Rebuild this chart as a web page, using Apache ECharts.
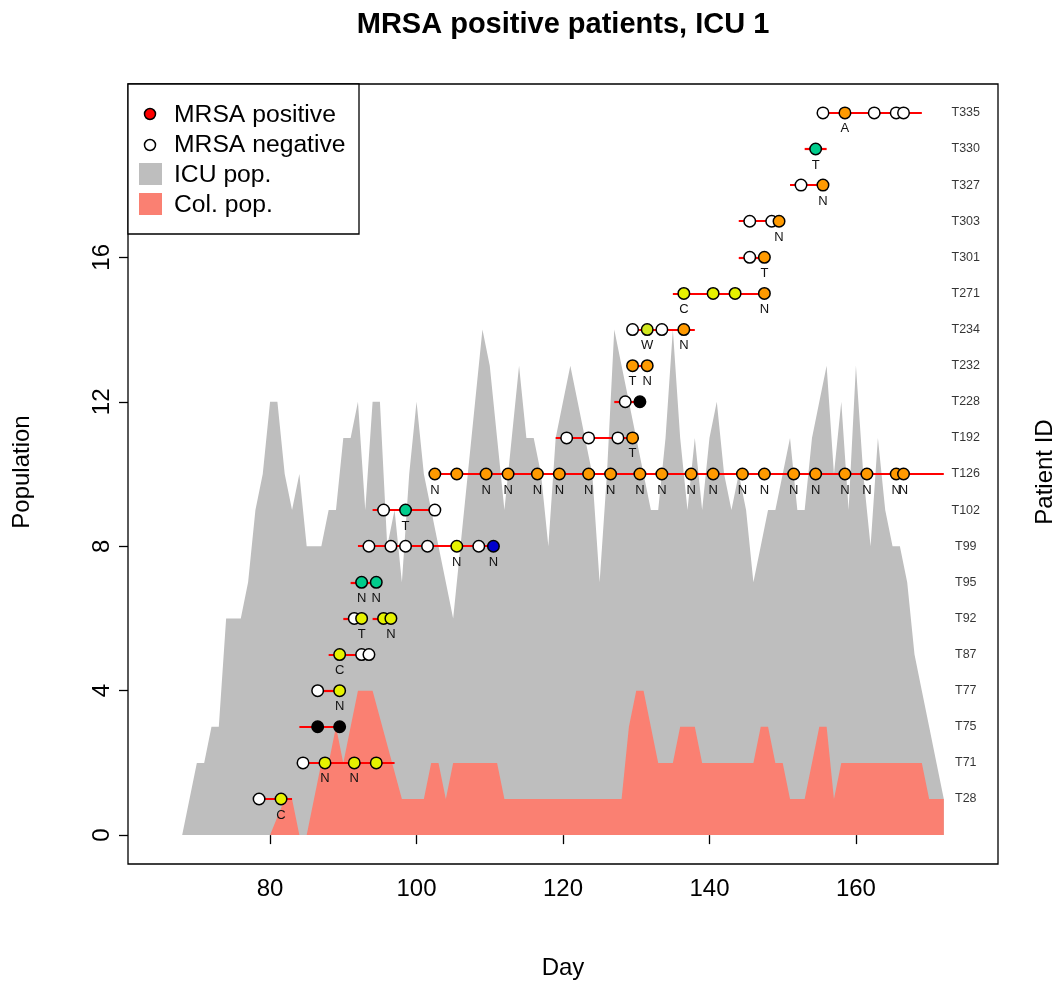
<!DOCTYPE html>
<html><head><meta charset="utf-8">
<script src="https://cdn.jsdelivr.net/npm/echarts@6/dist/echarts.min.js"></script>
<style>html,body{margin:0;padding:0;background:#fff}#c{width:1060px;height:985px}</style>
</head><body><div id="c"></div>
<script>
// ---------------- data ----------------
const patientIds = ['T28','T71','T75','T77','T87','T92','T95','T99','T102','T126',
  'T192','T228','T232','T234','T271','T301','T303','T327','T330','T335'];

const xTicks = [80, 100, 120, 140, 160];
const yTicks = [0, 4, 8, 12, 16];

// ICU population, one value per day starting at day 68
const icuFirstDay = 68;
const icuPop = [0,1,2,2,3,3,6,6,6,7,9,10,12,12,10,9,10,8,8,8,9,9,11,11,12,9,12,12,8,9,
  7,10,12,10,9,8,7,6,8,10,12,14,13,11,9,11,13,11,11,10,8,11,12,13,12,11,10,7,10,14,
  13,12,11,10,9,9,11,14,11,9,11,9,11,12,10,9,10,9,7,8,9,9,10,11,9,9,11,12,13,10,
  12,9,13,10,8,11,9,8,8,7,5,4,3,2,1];

// colonised population (polygon vertices: day, count)
const colDays = [80,82,83,84,85,86,87,88,89,90,91,92,94,98,101,102,103,104,105,111,112,
  128,129,130,131,133,135,136,138,139,146,147,148,149,150,151,153,155,156,157,158,169,170,172];
const colPop  = [0,1,1,0,0,1,2,2,3,2,3,4,4,1,1,2,2,1,2,2,1,
  1,3,4,4,2,2,3,3,2,2,3,3,2,2,1,1,3,3,1,2,2,1,1];

// stays (patient, start day, end day)
const stayId    = ['T28','T71','T75','T77','T87','T92','T92','T95','T99','T102','T126',
  'T192','T228','T232','T234','T271','T301','T303','T327','T330','T335'];
const stayStart = [78.5,84.5,84,86.5,88,90,94,91,92,94,102.5,119,127,129.5,129.5,135,144,144,151,153,155.5];
const stayEnd   = [83,97,89.5,89.5,93.5,92.5,96.5,94.5,110.5,102.5,172,129.5,130.5,131.5,138,147.5,147.5,149.5,155.5,156,169];

// samples (patient, day, result, site)
const sampleId = [
  'T28','T28',
  'T71','T71','T71','T71',
  'T75','T75',
  'T77','T77',
  'T87','T87','T87',
  'T92','T92','T92','T92',
  'T95','T95',
  'T99','T99','T99','T99','T99','T99','T99',
  'T102','T102','T102',
  'T126','T126','T126','T126','T126','T126','T126','T126','T126','T126',
  'T126','T126','T126','T126','T126','T126','T126','T126','T126','T126',
  'T192','T192','T192','T192',
  'T228','T228',
  'T232','T232',
  'T234','T234','T234','T234',
  'T271','T271','T271','T271',
  'T301','T301',
  'T303','T303','T303',
  'T327','T327',
  'T330',
  'T335','T335','T335','T335','T335'];
const sampleDay = [
  78.5,81.5,
  84.5,87.5,91.5,94.5,
  86.5,89.5,
  86.5,89.5,
  89.5,92.5,93.5,
  91.5,92.5,95.5,96.5,
  92.5,94.5,
  93.5,96.5,98.5,101.5,105.5,108.5,110.5,
  95.5,98.5,102.5,
  102.5,105.5,109.5,112.5,116.5,119.5,123.5,126.5,130.5,133.5,
  137.5,140.5,144.5,147.5,151.5,154.5,158.5,161.5,165.5,166.5,
  120.5,123.5,127.5,129.5,
  128.5,130.5,
  129.5,131.5,
  129.5,131.5,133.5,136.5,
  136.5,140.5,143.5,147.5,
  145.5,147.5,
  145.5,148.5,149.5,
  152.5,155.5,
  154.5,
  155.5,158.5,162.5,165.5,166.5];
// result: neg = MRSA negative; other codes = positive, by type
const sampleResult = [
  'neg','yel',
  'neg','yel','yel','yel',
  'blk','blk',
  'neg','yel',
  'yel','neg','neg',
  'neg','yel','yel','yel',
  'grn','grn',
  'neg','neg','neg','neg','yel','neg','blu',
  'neg','grn','neg',
  'org','org','org','org','org','org','org','org','org','org',
  'org','org','org','org','org','org','org','org','org','org',
  'neg','neg','neg','org',
  'neg','blk',
  'org','org',
  'neg','lim','neg','org',
  'yel','yel','yel','org',
  'neg','org',
  'neg','neg','org',
  'neg','org',
  'grn',
  'neg','org','neg','neg','neg'];
const sampleSite = [
  '','C',
  '','N','N','',
  '','',
  '','N',
  'C','','',
  '','T','','N',
  'N','N',
  '','','','','N','','N',
  '','T','',
  'N','','N','N','N','N','N','N','N','N',
  'N','N','N','N','N','N','N','N','N','N',
  '','','','T',
  '','',
  'T','N',
  '','W','','N',
  'C','','','N',
  '','T',
  '','','N',
  '','N',
  'T',
  '','A','','',''];

// ---------------- styling ----------------
const FONT = '"Liberation Sans", Arial, Helvetica, sans-serif';
const resultColor = {neg:'#FFFFFF', yel:'#E6F200', org:'#FF9A00', grn:'#00CC8C',
  blu:'#0000CC', blk:'#000000', lim:'#D2E81E'};
const labelDay = 175;
const rowOf = id => patientIds.indexOf(id) + 1;

const icuData = icuPop.map((v, i) => [icuFirstDay + i, v]);
const colData = colDays.map((d, i) => [d, colPop[i]]);
const stayData = stayId.map((id, i) => ({coords: [[stayStart[i], rowOf(id)], [stayEnd[i], rowOf(id)]]}));
const sampleData = sampleId.map((id, i) => ({
  value: [sampleDay[i], rowOf(id)],
  itemStyle: {color: resultColor[sampleResult[i]]},
  label: {show: sampleSite[i] !== '', formatter: sampleSite[i]}
}));
const idData = patientIds.map((id, i) => ({value: [labelDay, i + 1], label: {formatter: id}}));

const chart = echarts.init(document.getElementById('c'), null, {renderer: 'canvas'});
chart.setOption({
  animation: false,
  backgroundColor: '#fff',
  textStyle: {fontFamily: FONT},
  grid: {left: 128, top: 84, width: 870, height: 780, show: true, borderColor: '#000', borderWidth: 1.3, backgroundColor: 'transparent', z: 10},
  xAxis: {
    type: 'value', min: 60.6, max: 179.4,
    axisLine: {show: false}, splitLine: {show: false},
    axisTick: {show: true, customValues: xTicks, length: 9, lineStyle: {color: '#000', width: 1.3}},
    axisLabel: {customValues: xTicks, margin: 13, color: '#000', fontSize: 24, fontFamily: FONT}
  },
  yAxis: {
    type: 'value', min: -0.8, max: 20.8,
    axisLine: {show: false}, splitLine: {show: false},
    axisTick: {show: true, customValues: yTicks, length: 9, lineStyle: {color: '#000', width: 1.3}},
    axisLabel: {customValues: yTicks, rotate: 90, margin: 14, color: '#000', fontSize: 24, fontFamily: FONT}
  },
  series: [
    {type: 'line', name: 'ICU pop.', data: icuData, symbol: 'none', silent: true, z: 1,
      lineStyle: {width: 0}, areaStyle: {color: '#BEBEBE', opacity: 1}},
    {type: 'line', name: 'Col. pop.', data: colData, symbol: 'none', silent: true, z: 2,
      lineStyle: {width: 0}, areaStyle: {color: '#FA8072', opacity: 1}},
    {type: 'lines', coordinateSystem: 'cartesian2d', data: stayData, silent: true, z: 3,
      lineStyle: {color: '#FF0000', width: 2.2, opacity: 1, curveness: 0}},
    {type: 'scatter', data: sampleData, symbol: 'circle', symbolSize: 11.5, silent: true, z: 4,
      itemStyle: {borderColor: '#000', borderWidth: 1.5, opacity: 1},
      label: {position: 'bottom', distance: 3, fontSize: 13, color: '#111', fontFamily: FONT}},
    {type: 'scatter', data: idData, symbolSize: 0, silent: true, z: 4,
      label: {show: true, position: 'inside', fontSize: 12.5, color: '#000', fontFamily: FONT}}
  ],
  graphic: [
    {type: 'text', x: 563, y: 25, style: {text: 'MRSA positive patients, ICU 1', font: 'bold 29px ' + FONT, fill: '#000', textAlign: 'center', textVerticalAlign: 'middle'}},
    {type: 'text', x: 563, y: 968, style: {text: 'Day', font: '24px ' + FONT, fill: '#000', textAlign: 'center', textVerticalAlign: 'middle'}},
    {type: 'text', x: 22, y: 472, rotation: Math.PI / 2, style: {text: 'Population', font: '24px ' + FONT, fill: '#000', textAlign: 'center', textVerticalAlign: 'middle'}},
    {type: 'text', x: 1045, y: 472, rotation: Math.PI / 2, style: {text: 'Patient ID', font: '24px ' + FONT, fill: '#000', textAlign: 'center', textVerticalAlign: 'middle'}},
    // legend
    {type: 'rect', z: 20, shape: {x: 128, y: 84, width: 231, height: 150}, style: {fill: '#fff', stroke: '#000', lineWidth: 1.3}},
    {type: 'circle', z: 21, shape: {cx: 150, cy: 114, r: 5.5}, style: {fill: '#FF0000', stroke: '#000', lineWidth: 1.5}},
    {type: 'circle', z: 21, shape: {cx: 150, cy: 145, r: 5.5}, style: {fill: '#FFFFFF', stroke: '#000', lineWidth: 1.5}},
    {type: 'rect', z: 21, shape: {x: 139, y: 163, width: 23, height: 22}, style: {fill: '#BEBEBE'}},
    {type: 'rect', z: 21, shape: {x: 139, y: 193, width: 23, height: 22}, style: {fill: '#FA8072'}},
    {type: 'text', z: 21, x: 174, y: 115, style: {text: 'MRSA positive', font: '24.7px ' + FONT, fill: '#000', textVerticalAlign: 'middle'}},
    {type: 'text', z: 21, x: 174, y: 145, style: {text: 'MRSA negative', font: '24.7px ' + FONT, fill: '#000', textVerticalAlign: 'middle'}},
    {type: 'text', z: 21, x: 174, y: 175, style: {text: 'ICU pop.', font: '24.7px ' + FONT, fill: '#000', textVerticalAlign: 'middle'}},
    {type: 'text', z: 21, x: 174, y: 205, style: {text: 'Col. pop.', font: '24.7px ' + FONT, fill: '#000', textVerticalAlign: 'middle'}}
  ]
});
</script></body></html>
